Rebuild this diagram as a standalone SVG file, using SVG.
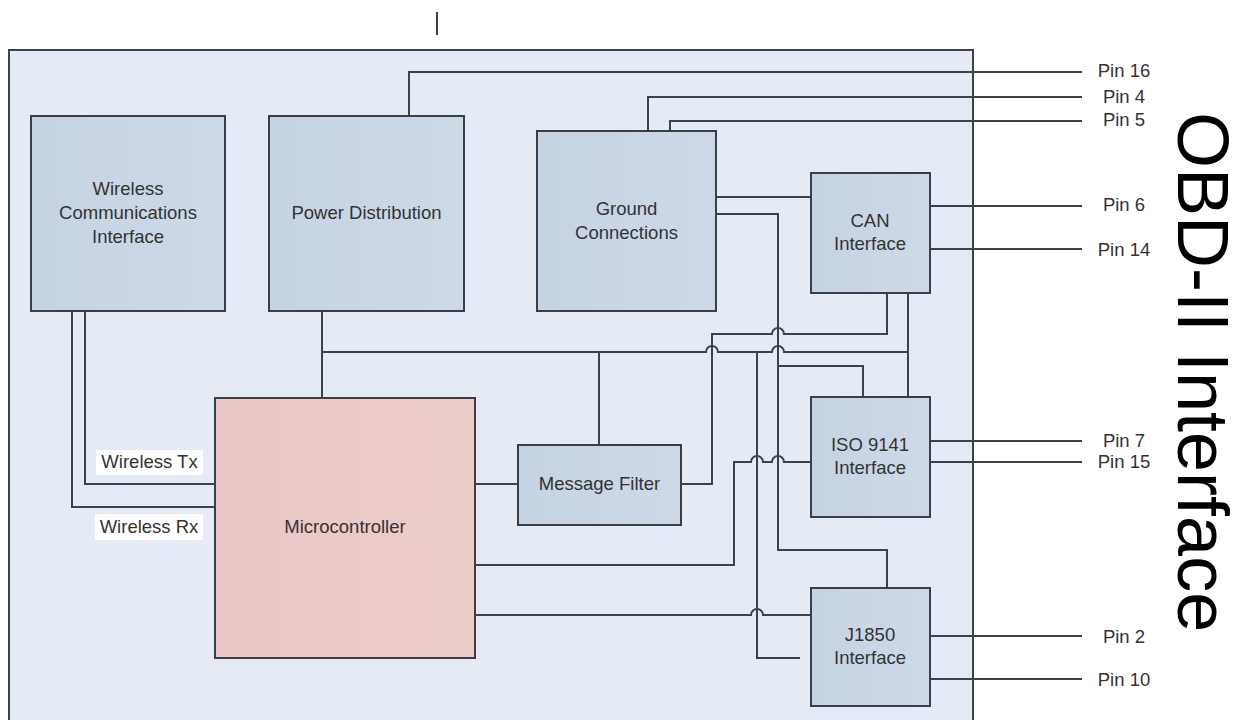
<svg xmlns="http://www.w3.org/2000/svg" width="1241" height="720" viewBox="0 0 1241 720">
  <defs>
    <linearGradient id="boxg" x1="0" y1="0" x2="1" y2="0">
      <stop offset="0" stop-color="#c6d3e3"/>
      <stop offset="1" stop-color="#cdd9e7"/>
    </linearGradient>
    <linearGradient id="mcg" x1="0" y1="0" x2="1" y2="0">
      <stop offset="0" stop-color="#e9c6c5"/>
      <stop offset="1" stop-color="#edcdcb"/>
    </linearGradient>
  </defs>
  <style>
    .frame { fill: #e5ebf5; stroke: #3d434c; stroke-width: 2; }
    .box { fill: url(#boxg); stroke: #3a3f47; stroke-width: 2; }
    .mc { fill: url(#mcg); stroke: #3a3f47; stroke-width: 2; }
    .wire { fill: none; stroke: #3c424b; stroke-width: 2; }
    .lbl { font-family: "Liberation Sans", Arial, sans-serif; font-size: 18.5px; fill: #333333; text-anchor: middle; }
    .pin { font-family: "Liberation Sans", Arial, sans-serif; font-size: 18.5px; fill: #333333; text-anchor: middle; }
    .title { font-family: "Liberation Sans", Arial, sans-serif; font-size: 72px; fill: #000000; }
  </style>

  <rect class="frame" x="9" y="50" width="964" height="690"/>

  <g id="connectors">
    <path class="wire" d="M437 12 V35"/>
    <path class="wire" d="M409 116 V72 H1082"/>
    <path class="wire" d="M648 131 V97 H1082"/>
    <path class="wire" d="M670 131 V121 H1082"/>
    <path class="wire" d="M716 197 H811"/>
    <path class="wire" d="M716 214 H778 V550 H887 V588"/>
    <path class="wire" d="M778 366 H863 V397"/>
    <path class="wire" d="M887 293 V334 H784 A6 6 0 0 0 772 334 H712 V484 H681"/>
    <path class="wire" d="M322 311 V398"/>
    <path class="wire" d="M322 352 H706 A6 6 0 0 1 718 352 H772 A6 6 0 0 1 784 352 H908"/>
    <path class="wire" d="M908 293 V397"/>
    <path class="wire" d="M599 352 V445"/>
    <path class="wire" d="M757 352 V658 H800"/>
    <path class="wire" d="M475 484 H518"/>
    <path class="wire" d="M475 565 H734 V462 H751 A6 6 0 0 1 763 462 H772 A6 6 0 0 1 784 462 H811"/>
    <path class="wire" d="M475 615 H751 A6 6 0 0 1 763 615 H811"/>
    <path class="wire" d="M85 311 V484 H215"/>
    <path class="wire" d="M72 311 V507 H215"/>
    <path class="wire" d="M930 206 H1082"/>
    <path class="wire" d="M930 249 H1082"/>
    <path class="wire" d="M930 441 H1082"/>
    <path class="wire" d="M930 462 H1082"/>
    <path class="wire" d="M930 636 H1082"/>
    <path class="wire" d="M930 679 H1082"/>
  </g>

  <g id="wireless">
    <rect class="box" x="31" y="116" width="194" height="195"/>
    <text class="lbl" x="128" y="194.5">Wireless</text>
    <text class="lbl" x="128" y="218.5">Communications</text>
    <text class="lbl" x="128" y="242.5">Interface</text>
  </g>
  <g id="power">
    <rect class="box" x="269" y="116" width="195" height="195"/>
    <text class="lbl" x="366.5" y="219">Power Distribution</text>
  </g>
  <g id="ground">
    <rect class="box" x="537" y="131" width="179" height="180"/>
    <text class="lbl" x="626.5" y="214.5">Ground</text>
    <text class="lbl" x="626.5" y="238.5">Connections</text>
  </g>
  <g id="can">
    <rect class="box" x="811" y="173" width="119" height="120"/>
    <text class="lbl" x="870" y="227">CAN</text>
    <text class="lbl" x="870" y="250">Interface</text>
  </g>
  <g id="iso9141">
    <rect class="box" x="811" y="397" width="119" height="120"/>
    <text class="lbl" x="870" y="451">ISO 9141</text>
    <text class="lbl" x="870" y="474">Interface</text>
  </g>
  <g id="j1850">
    <rect class="box" x="811" y="588" width="119" height="118"/>
    <text class="lbl" x="870" y="641">J1850</text>
    <text class="lbl" x="870" y="664">Interface</text>
  </g>
  <g id="microcontroller">
    <rect class="mc" x="215" y="398" width="260" height="260"/>
    <text class="lbl" x="345" y="533">Microcontroller</text>
  </g>
  <g id="message-filter">
    <rect class="box" x="518" y="445" width="163" height="80"/>
    <text class="lbl" x="599.5" y="490">Message Filter</text>
  </g>

  <g id="wire-labels">
    <rect x="96" y="450" width="107" height="25" fill="#ffffff"/>
    <text class="lbl" x="149.5" y="468">Wireless Tx</text>
    <rect x="95" y="514" width="108" height="26" fill="#ffffff"/>
    <text class="lbl" x="149" y="533">Wireless Rx</text>
  </g>

  <g id="pins">
    <text class="pin" x="1124" y="77">Pin 16</text>
    <text class="pin" x="1124" y="103">Pin 4</text>
    <text class="pin" x="1124" y="126">Pin 5</text>
    <text class="pin" x="1124" y="211">Pin 6</text>
    <text class="pin" x="1124" y="256">Pin 14</text>
    <text class="pin" x="1124" y="447">Pin 7</text>
    <text class="pin" x="1124" y="468">Pin 15</text>
    <text class="pin" x="1124" y="643">Pin 2</text>
    <text class="pin" x="1124" y="686">Pin 10</text>
  </g>

  <g id="title">
    <text class="title" transform="translate(1178,112) rotate(90)">OBD-II Interface</text>
  </g>
</svg>
